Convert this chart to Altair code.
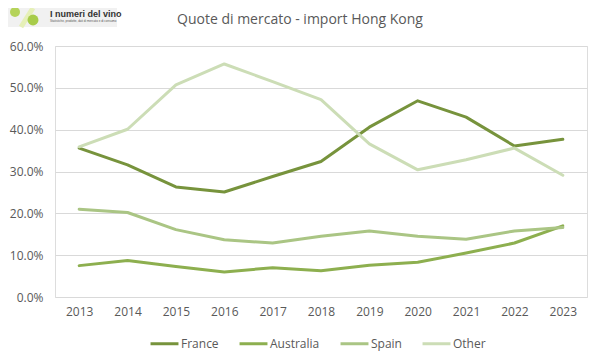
import altair as alt
import pandas as pd

years = ["2013", "2014", "2015", "2016", "2017", "2018", "2019", "2020", "2021", "2022", "2023"]
france = [0.356, 0.316, 0.263, 0.251, 0.288, 0.324, 0.406, 0.469, 0.430, 0.361, 0.377]
australia = [0.075, 0.087, 0.073, 0.060, 0.070, 0.063, 0.076, 0.083, 0.105, 0.129, 0.170]
spain = [0.210, 0.202, 0.161, 0.137, 0.129, 0.145, 0.158, 0.145, 0.138, 0.158, 0.166]
other = [0.359, 0.401, 0.507, 0.557, 0.515, 0.472, 0.366, 0.304, 0.328, 0.356, 0.291]

series = ["France", "Australia", "Spain", "Other"]
colors = ["#77933C", "#8DAF4F", "#AAC584", "#CCDDB6"]

title_text = "Quote di mercato - import Hong Kong"
logo_text = "I numeri del vino"
logo_sub = "Statistiche, prodotte, dati di mercato e di consumo"

rows = []
for name, vals in zip(series, [france, australia, spain, other]):
    for y, v in zip(years, vals):
        rows.append({"Year": y, "Series": name, "Share": v})
df = pd.DataFrame(rows)

FONT = "Open Sans"
one = pd.DataFrame({"a": [1]})

lines = alt.Chart(df).mark_line(strokeWidth=3, strokeCap="round", strokeJoin="round").encode(
    x=alt.X("Year:O", sort=years, scale=alt.Scale(type="point", padding=0.5),
            axis=alt.Axis(title=None, labelAngle=0, domain=False, ticks=False,
                          labelFont=FONT, labelFontSize=12, labelColor="#595959", labelPadding=9)),
    y=alt.Y("Share:Q", scale=alt.Scale(domain=[0, 0.6], nice=False),
            axis=alt.Axis(title=None, format=".1%", values=[0, 0.1, 0.2, 0.3, 0.4, 0.5, 0.6],
                          domain=False, ticks=False, grid=True, gridColor="#D9D9D9", gridWidth=1,
                          labelFont=FONT, labelFontSize=12, labelColor="#595959", labelPadding=12)),
    color=alt.Color("Series:N", sort=series,
                    scale=alt.Scale(domain=series, range=colors),
                    legend=alt.Legend(title=None, orient="none", direction="horizontal",
                                      legendX=94, legendY=282, symbolType="stroke",
                                      symbolSize=780, symbolStrokeWidth=3,
                                      labelFont=FONT, labelFontSize=12, labelColor="#595959",
                                      columnPadding=14, labelOffset=1)),
    order=alt.Order("Series:N"),
)

bg = alt.Chart(one).mark_rect(color="#F1F1F1").encode(
    x=alt.value(-47), x2=alt.value(62), y=alt.value(-38), y2=alt.value(-19))
slash = alt.Chart(one).mark_rule(color="#E6F0B8", strokeWidth=5).encode(
    x=alt.value(-22), x2=alt.value(-34), y=alt.value(-38), y2=alt.value(-19))
grape1 = alt.Chart(one).mark_point(filled=True, size=100, color="#B5D35A", opacity=1).encode(
    x=alt.value(-40), y=alt.value(-34))
grape2 = alt.Chart(one).mark_point(filled=True, size=120, color="#A8CC4A", opacity=1).encode(
    x=alt.value(-22), y=alt.value(-26))
logo = alt.Chart(one).mark_text(align="left", baseline="middle", font="Liberation Sans",
                                fontSize=9, fontWeight="bold", color="#333333", text=logo_text).encode(
    x=alt.value(-5), y=alt.value(-32))
sub = alt.Chart(one).mark_text(align="left", baseline="middle", font="Liberation Sans",
                               fontSize=3, color="#555555", text=logo_sub).encode(
    x=alt.value(-5), y=alt.value(-25))
title = alt.Chart(one).mark_text(align="center", baseline="middle", font=FONT, fontSize=14,
                                 color="#595959", text=title_text).encode(
    x=alt.value(245), y=alt.value(-26))

chart = alt.layer(bg, slash, grape1, grape2, logo, sub, title, lines).properties(
    width=532, height=251,
    autosize=alt.AutoSizeParams(type="none"),
    padding={"left": 47, "top": 38, "right": 7, "bottom": 58},
).configure_view(stroke=None).configure(background="white")

chart.save("out.html", embed_options={"renderer": "svg", "actions": False})
